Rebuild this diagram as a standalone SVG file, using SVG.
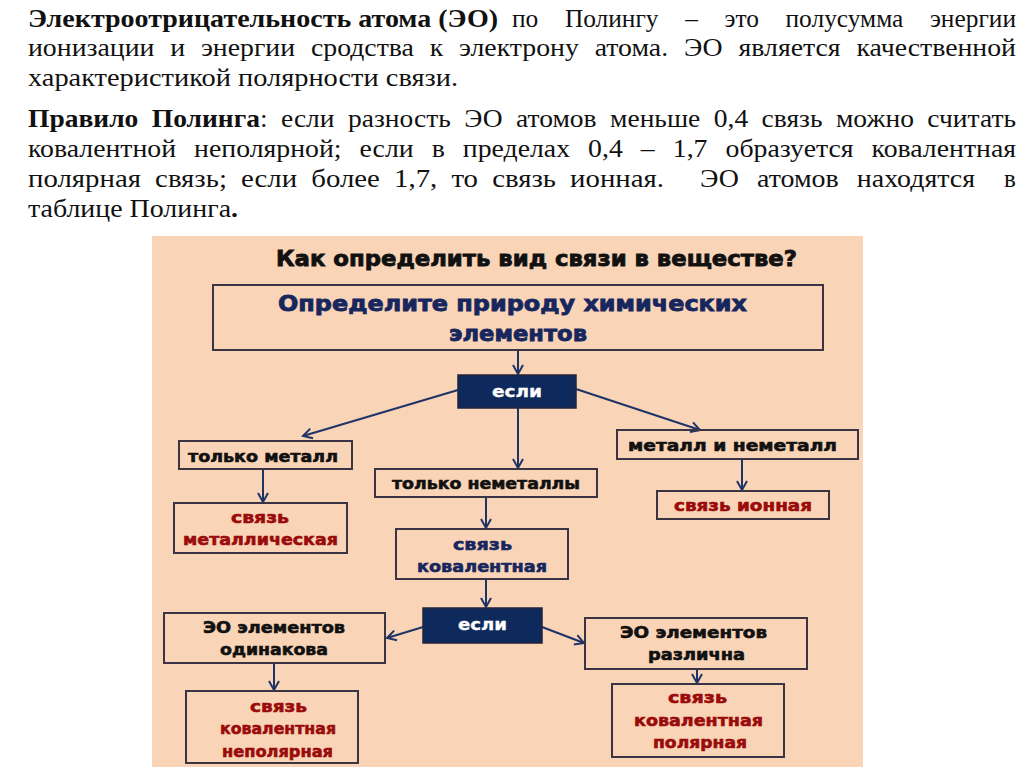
<svg xmlns="http://www.w3.org/2000/svg" width="1024" height="767" viewBox="0 0 1024 767">
<style>
.hd{font-family:"Liberation Serif","Times New Roman",serif;font-size:25px;fill:#111;}
.b{font-weight:bold;}
.t{font-family:"DejaVu Sans","Liberation Sans",sans-serif;font-weight:bold;font-size:16px;stroke-width:0.6px;}
.big{font-size:21px;stroke-width:0.8px;}
.blk{fill:#111;stroke:#111;}
.navy{fill:#17275E;stroke:#17275E;}
.red{fill:#9A0B0B;stroke:#9A0B0B;}
.wh{fill:#fff;stroke:#fff;stroke-width:0.3px;}
.box{fill:none;stroke:#3A3445;stroke-width:2;}
.ifbox{fill:#0E2A5C;stroke:#23233A;stroke-width:1.5;}
.con{stroke:#1F3466;stroke-width:2;fill:none;marker-end:url(#ah);}
</style>
<defs>
<marker id="ah" markerWidth="14" markerHeight="14" refX="11" refY="7" orient="auto" markerUnits="userSpaceOnUse">
<path d="M2,2 L11,7 L2,12" fill="none" stroke="#1F3466" stroke-width="2"/>
</marker>
</defs>
<rect width="1024" height="767" fill="#fff"/>
<g id="header">
<text class="hd b" x="28" y="27" textLength="470" lengthAdjust="spacingAndGlyphs">Электроотрицательность атома (ЭО)</text>
<text class="hd" x="512" y="27" textLength="504" lengthAdjust="spacingAndGlyphs" word-spacing="20">по Полингу – это полусумма энергии</text>
<text class="hd" x="28" y="56" textLength="988" lengthAdjust="spacingAndGlyphs" word-spacing="8">ионизации и энергии сродства к электрону атома. ЭО является качественной</text>
<text class="hd" x="28" y="86" textLength="430" lengthAdjust="spacingAndGlyphs">характеристикой полярности связи.</text>
<text class="hd" x="28" y="127" textLength="988" lengthAdjust="spacingAndGlyphs" word-spacing="6"><tspan class="b">Правило Полинга</tspan>: если разность ЭО атомов меньше 0,4 связь можно считать</text>
<text class="hd" x="28" y="157" textLength="988" lengthAdjust="spacingAndGlyphs" word-spacing="10">ковалентной неполярной; если в пределах 0,4 – 1,7 образуется ковалентная</text>
<text class="hd" x="28" y="187" textLength="636" lengthAdjust="spacingAndGlyphs" word-spacing="6">полярная связь; если более 1,7, то связь ионная.</text>
<text class="hd" x="700" y="187" textLength="275" lengthAdjust="spacingAndGlyphs" word-spacing="10">ЭО атомов находятся</text>
<text class="hd" x="1004" y="187">в</text>
<text class="hd" x="28" y="217" textLength="210" lengthAdjust="spacingAndGlyphs">таблице Полинга<tspan class="b">.</tspan></text>
</g>
<rect id="panel" x="152" y="236" width="711" height="531" fill="#F9D4B6"/>
<g id="title">
<text class="t big blk" x="276" y="266" textLength="521" lengthAdjust="spacingAndGlyphs">Как определить вид связи в веществе?</text>
</g>
<g id="connectors">
<line class="con" x1="518" y1="350" x2="518" y2="374"/>
<line class="con" x1="458" y1="390" x2="303" y2="436"/>
<line class="con" x1="518" y1="408" x2="518" y2="468"/>
<line class="con" x1="576" y1="389" x2="700" y2="430"/>
<line class="con" x1="263" y1="469" x2="263" y2="502"/>
<line class="con" x1="742" y1="459" x2="742" y2="490"/>
<line class="con" x1="486" y1="497" x2="486" y2="528"/>
<line class="con" x1="486" y1="579" x2="486" y2="607"/>
<line class="con" x1="423" y1="627" x2="387" y2="638"/>
<line class="con" x1="542" y1="627" x2="584" y2="643"/>
<line class="con" x1="274" y1="663" x2="274" y2="690"/>
<line class="con" x1="697" y1="669" x2="697" y2="683"/>
</g>
<g id="n-nature">
<rect class="box" x="213" y="285" width="610" height="65"/>
<text class="t big navy" x="278" y="311" textLength="469" lengthAdjust="spacingAndGlyphs">Определите природу химических</text>
<text class="t big navy" x="449" y="341" textLength="138" lengthAdjust="spacingAndGlyphs">элементов</text>
</g>
<g id="n-if1">
<rect class="ifbox" x="458" y="375" width="118" height="33"/>
<text class="t wh" x="492" y="397" textLength="50" lengthAdjust="spacingAndGlyphs">если</text>
</g>
<g id="n-metal">
<rect class="box" x="179" y="441" width="173" height="28"/>
<text class="t blk" x="188" y="462" textLength="150" lengthAdjust="spacingAndGlyphs">только металл</text>
</g>
<g id="n-nonmetal">
<rect class="box" x="375" y="469" width="222" height="28"/>
<text class="t blk" x="392" y="489" textLength="188" lengthAdjust="spacingAndGlyphs">только неметаллы</text>
</g>
<g id="n-mixed">
<rect class="box" x="617" y="430" width="241" height="29"/>
<text class="t blk" x="628" y="451" textLength="209" lengthAdjust="spacingAndGlyphs">металл и неметалл</text>
</g>
<g id="n-ionic">
<rect class="box" x="657" y="491" width="172" height="28"/>
<text class="t red" x="674" y="511" textLength="138" lengthAdjust="spacingAndGlyphs">связь ионная</text>
</g>
<g id="n-metallic">
<rect class="box" x="174" y="503" width="173" height="50"/>
<text class="t red" x="231" y="523" textLength="58" lengthAdjust="spacingAndGlyphs">связь</text>
<text class="t red" x="183" y="545" textLength="155" lengthAdjust="spacingAndGlyphs">металлическая</text>
</g>
<g id="n-covalent">
<rect class="box" x="396" y="529" width="172" height="50"/>
<text class="t navy" x="453" y="550" textLength="59" lengthAdjust="spacingAndGlyphs">связь</text>
<text class="t navy" x="417" y="572" textLength="130" lengthAdjust="spacingAndGlyphs">ковалентная</text>
</g>
<g id="n-if2">
<rect class="ifbox" x="423" y="608" width="119" height="35"/>
<text class="t wh" x="458" y="630" textLength="49" lengthAdjust="spacingAndGlyphs">если</text>
</g>
<g id="n-same">
<rect class="box" x="164" y="613" width="221" height="50"/>
<text class="t blk" x="203" y="633" textLength="142" lengthAdjust="spacingAndGlyphs">ЭО элементов</text>
<text class="t blk" x="220" y="655" textLength="108" lengthAdjust="spacingAndGlyphs">одинакова</text>
</g>
<g id="n-diff">
<rect class="box" x="585" y="618" width="222" height="51"/>
<text class="t blk" x="620" y="638" textLength="147" lengthAdjust="spacingAndGlyphs">ЭО элементов</text>
<text class="t blk" x="648" y="660" textLength="97" lengthAdjust="spacingAndGlyphs">различна</text>
</g>
<g id="n-nonpolar">
<rect class="box" x="186" y="691" width="172" height="72"/>
<text class="t red" x="250" y="712" textLength="57" lengthAdjust="spacingAndGlyphs">связь</text>
<text class="t red" x="220" y="734" textLength="116" lengthAdjust="spacingAndGlyphs">ковалентная</text>
<text class="t red" x="222" y="757" textLength="111" lengthAdjust="spacingAndGlyphs">неполярная</text>
</g>
<g id="n-polar">
<rect class="box" x="612" y="684" width="172" height="73"/>
<text class="t red" x="668" y="703" textLength="59" lengthAdjust="spacingAndGlyphs">связь</text>
<text class="t red" x="634" y="726" textLength="129" lengthAdjust="spacingAndGlyphs">ковалентная</text>
<text class="t red" x="653" y="748" textLength="94" lengthAdjust="spacingAndGlyphs">полярная</text>
</g>
</svg>
